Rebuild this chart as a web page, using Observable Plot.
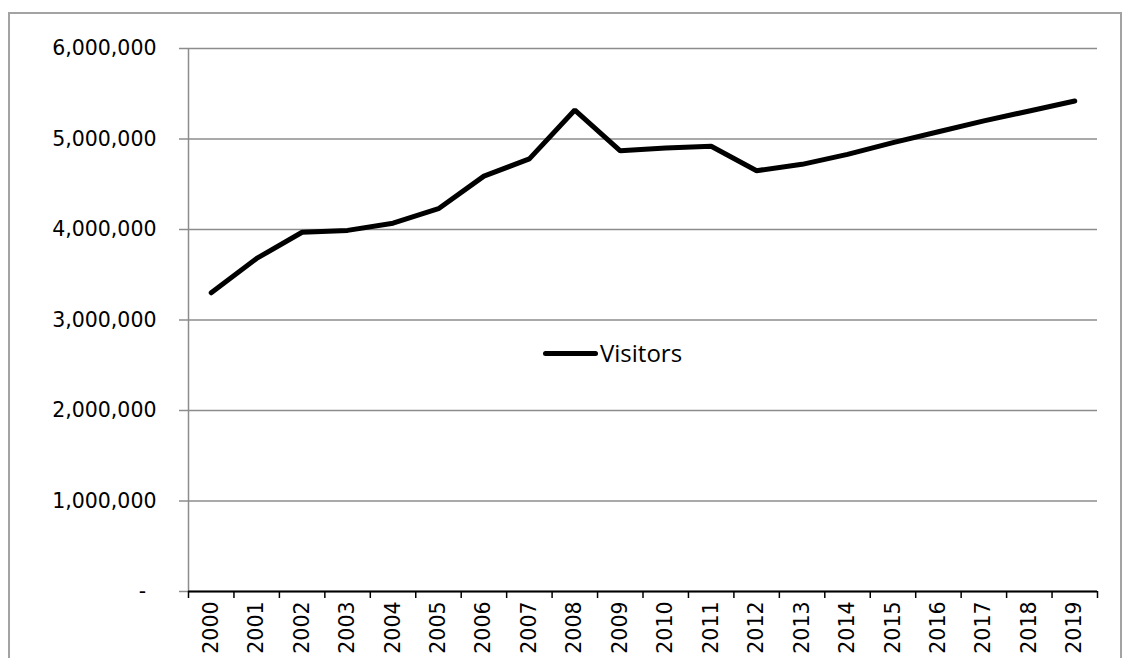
<!DOCTYPE html>
<html>
<head>
<meta charset="utf-8">
<script src="https://cdn.jsdelivr.net/npm/d3@7"></script>
<script src="https://cdn.jsdelivr.net/npm/@observablehq/plot@0.6"></script>
<style>
  html, body { margin: 0; padding: 0; background: #fff; }
  #wrap { position: relative; width: 1123px; height: 658px; overflow: hidden; background: #fff; }
  #frame { position: absolute; left: 8px; top: 12px; width: 1114px; height: 720px; box-sizing: border-box;
           border: 2px solid #a3a3a3; pointer-events: none; z-index: 2; }
  #legend { position: absolute; left: 543px; top: 341px; display: flex; align-items: center; z-index: 3;
            font-family: "Open Sans", sans-serif; font-size: 24px; color: #000; line-height: 1; }
  #legend .swatch { width: 55px; height: 5px; background: #000; border-radius: 3px; margin-right: 2px; }
</style>
</head>
<body>
<div id="wrap">
  <div id="chart"></div>
  <div id="frame"></div>
  <div id="legend"><span class="swatch"></span><span id="legend-label"></span></div>
</div>
<script>
const years = [2000, 2001, 2002, 2003, 2004, 2005, 2006, 2007, 2008, 2009,
               2010, 2011, 2012, 2013, 2014, 2015, 2016, 2017, 2018, 2019];
const visitors = [3300000, 3680000, 3970000, 3990000, 4070000, 4230000, 4590000, 4780000, 5320000, 4870000,
                  4900000, 4920000, 4650000, 4720000, 4830000, 4960000, 5080000, 5200000, 5310000, 5420000];
const yTicks = [0, 1000000, 2000000, 3000000, 4000000, 5000000, 6000000];
const seriesName = "Visitors";

document.getElementById("legend-label").textContent = seriesName;

const data = years.map((year, i) => ({year, value: visitors[i]}));
const boundaries = years.map(y => y - 0.5).concat([years[years.length - 1] + 0.5]);
const fmt = d3.format(",");

const chart = Plot.plot({
  width: 1123,
  height: 658,
  marginLeft: 188,
  marginRight: 26,
  marginTop: 48,
  marginBottom: 67,
  style: {fontFamily: "DejaVu Sans, sans-serif", fontSize: "20.5px", color: "#000", background: "transparent"},
  x: {domain: [boundaries[0], boundaries[boundaries.length - 1]]},
  y: {domain: [0, 6000000]},
  marks: [
    Plot.gridY(yTicks, {stroke: "#8c8c8c", strokeOpacity: 1, strokeWidth: 1.5}),
    Plot.axisY(yTicks, {
      tickSize: 9, tickPadding: 23, stroke: "#8c8c8c", strokeWidth: 1.5,
      tickFormat: d => d === 0 ? "-\u2002" : fmt(d),
      fill: "#000", fontSize: 20.5, label: null
    }),
    Plot.ruleX([boundaries[0]], {stroke: "#8c8c8c", strokeWidth: 1.5}),
    Plot.axisX(boundaries, {tickSize: 7, stroke: "#000", strokeWidth: 1.5, tickFormat: () => "", label: null}),
    Plot.axisX(years, {
      tickSize: 0, tickPadding: 10, tickRotate: -90, tickFormat: d => String(d),
      fill: "#000", fontSize: 20.5, label: null
    }),
    Plot.ruleY([0], {stroke: "#000", strokeWidth: 2}),
    Plot.line(data, {x: "year", y: "value", stroke: "#000", strokeWidth: 5,
                     strokeLinecap: "round", strokeLinejoin: "miter"})
  ]
});
document.getElementById("chart").appendChild(chart);
</script>
</body>
</html>
